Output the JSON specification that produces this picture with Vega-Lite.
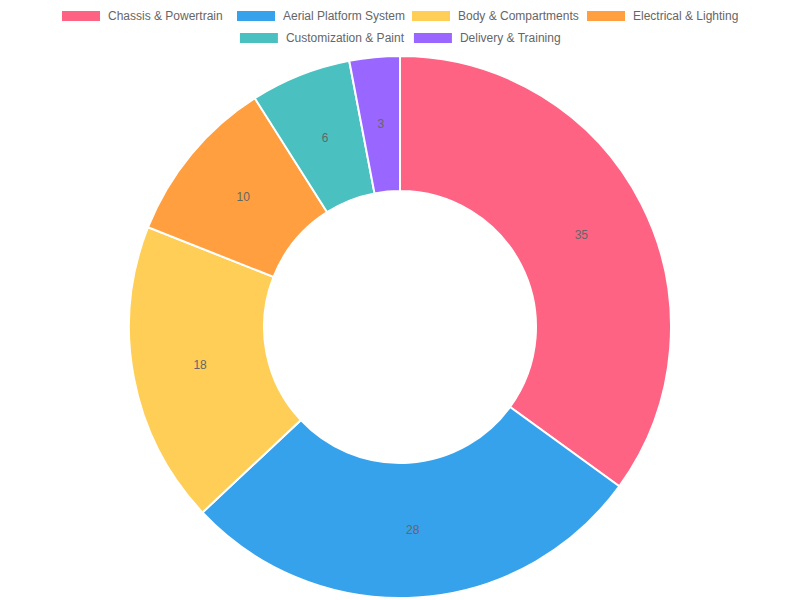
{
  "$schema": "https://vega.github.io/schema/vega-lite/v6.json",
  "padding": 0,
  "spacing": 0,
  "center": true,
  "background": "white",
  "config": {"view": {"stroke": null}, "font": "Liberation Sans"},
  "data": {"values": [
    {"category": "Chassis & Powertrain", "value": 35},
    {"category": "Aerial Platform System", "value": 28},
    {"category": "Body & Compartments", "value": 18},
    {"category": "Electrical & Lighting", "value": 10},
    {"category": "Customization & Paint", "value": 6},
    {"category": "Delivery & Training", "value": 3}
  ]},
  "vconcat": [
    {
      "width": 800, "height": 32,
      "transform": [{"filter": {"field": "category", "oneOf": ["Chassis & Powertrain", "Aerial Platform System", "Body & Compartments", "Electrical & Lighting"]}}],
      "encoding": {
        "x": {"field": "category", "type": "nominal", "sort": null, "bandPosition": 0,
              "scale": {"type": "band", "paddingInner": 0, "paddingOuter": 0.2857, "align": 0.62}, "axis": null}
      },
      "layer": [
        {"mark": {"type": "point", "shape": "M0,-0.5H3.8V0.5H0Z", "size": 400, "filled": true, "opacity": 1, "strokeWidth": 0},
         "encoding": {"color": {"field": "category", "type": "nominal", "legend": null,
            "scale": {"domain": ["Chassis & Powertrain", "Aerial Platform System", "Body & Compartments", "Electrical & Lighting", "Customization & Paint", "Delivery & Training"],
                      "range": ["#FF6384", "#36A2EB", "#FFCE56", "#FF9F40", "#4BC0C0", "#9966FF"]}}}},
        {"mark": {"type": "text", "align": "left", "baseline": "middle", "dx": 46, "fontSize": 12, "color": "#666666"},
         "encoding": {"text": {"field": "category"}}}
      ]
    },
    {
      "width": 522, "height": 12,
      "transform": [{"filter": {"field": "category", "oneOf": ["Customization & Paint", "Delivery & Training"]}}],
      "encoding": {
        "x": {"field": "category", "type": "nominal", "sort": null, "bandPosition": 0,
              "scale": {"type": "band", "paddingInner": 0, "paddingOuter": 0.5, "align": 0.58}, "axis": null}
      },
      "layer": [
        {"mark": {"type": "point", "shape": "M0,-0.5H3.8V0.5H0Z", "size": 400, "filled": true, "opacity": 1, "strokeWidth": 0},
         "encoding": {"color": {"field": "category", "type": "nominal", "legend": null}}},
        {"mark": {"type": "text", "align": "left", "baseline": "middle", "dx": 46, "fontSize": 12, "color": "#666666"},
         "encoding": {"text": {"field": "category"}}}
      ]
    },
    {
      "width": 800, "height": 556,
      "encoding": {
        "theta": {"field": "value", "type": "quantitative", "stack": true},
        "order": {"field": "value", "sort": "descending"}
      },
      "layer": [
        {"mark": {"type": "arc", "outerRadius": 271, "innerRadius": 136, "stroke": "white", "strokeWidth": 2, "yOffset": 5},
         "encoding": {"color": {"field": "category", "type": "nominal", "legend": null}}},
        {"mark": {"type": "text", "radius": 203.5, "fontSize": 12, "color": "#666666", "yOffset": 5},
         "encoding": {"text": {"field": "value", "type": "quantitative"}}}
      ]
    }
  ],
  "resolve": {"scale": {"x": "independent"}}
}
